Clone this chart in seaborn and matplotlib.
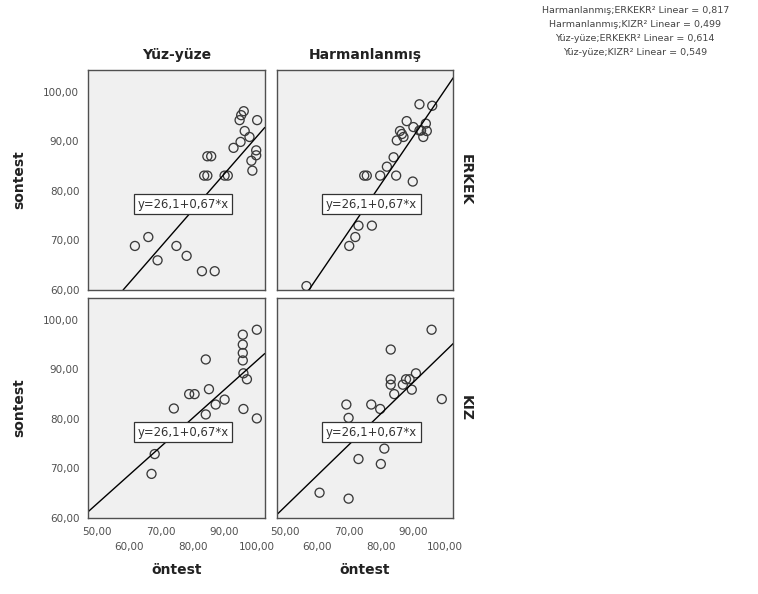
import pandas as pd
import matplotlib
matplotlib.use("Agg")
import matplotlib.pyplot as plt
import seaborn as sns

# method / gender categories
methods = ["Yüz-yüze", "Harmanlanmış"]
genders = ["ERKEK", "KIZ"]

# pre-test (öntest) / post-test (sontest) scores
yy_erkek_on = [61.9, 66.1, 69.0, 74.9, 78.1, 82.9, 86.9, 83.6, 84.6, 84.6, 85.8,
               90.0, 91.0, 92.8, 95.0, 96.3, 97.8, 94.7, 95.2, 96.0, 100.2,
               99.9, 99.9, 98.4, 98.7]
yy_erkek_son = [68.9, 70.7, 66.0, 68.9, 66.9, 63.8, 63.8, 83.1, 83.1, 87.0, 87.0,
                83.1, 83.1, 88.7, 89.9, 92.1, 90.9, 94.3, 95.3, 96.1, 94.3,
                88.2, 87.2, 86.1, 84.1]

h_erkek_on = [56.6, 70.0, 71.9, 72.9, 77.1, 74.7, 75.5, 79.7, 81.8, 83.9, 84.7,
              89.9, 84.9, 85.9, 87.0, 88.0, 90.1, 92.0, 92.5, 93.2, 94.0,
              94.3, 92.0, 96.0, 86.5]
h_erkek_son = [60.8, 68.9, 70.7, 73.0, 73.0, 83.1, 83.1, 83.1, 84.9, 86.8, 83.1,
               81.9, 90.2, 92.1, 90.9, 94.1, 92.9, 92.2, 92.2, 90.9, 93.6,
               92.1, 97.5, 97.2, 91.5]

yy_kiz_on = [67.1, 68.1, 74.1, 78.9, 80.6, 84.1, 85.1, 84.1, 87.2, 90.0, 95.9,
             100.1, 100.1, 95.7, 95.7, 95.7, 95.7, 95.9, 97.0]
yy_kiz_son = [68.9, 72.9, 82.1, 85.0, 85.0, 92.0, 86.0, 80.9, 82.9, 83.9, 82.0,
              80.1, 98.0, 97.0, 95.0, 93.3, 91.8, 89.2, 88.0]

h_kiz_on = [60.7, 69.8, 69.1, 69.8, 72.9, 76.9, 79.7, 79.9, 81.0, 83.0, 83.0,
            83.0, 84.1, 86.8, 87.8, 88.9, 89.6, 90.9, 95.8, 99.0]
h_kiz_son = [65.1, 63.9, 82.9, 80.2, 71.9, 82.9, 82.0, 70.9, 74.0, 94.0, 88.0,
             86.9, 85.0, 86.9, 88.0, 88.0, 85.9, 89.2, 98.0, 84.0]

# fit lines as drawn in each panel (intercept, slope)
fit_lines = {
    ("Yüz-yüze", "ERKEK"): (17.0, 0.739),
    ("Harmanlanmış", "ERKEK"): (5.7, 0.947),
    ("Yüz-yüze", "KIZ"): (34.0, 0.577),
    ("Harmanlanmış", "KIZ"): (31.1, 0.625),
}
fit_label = "y=26,1+0,67*x"
r2_lines = [
    "Harmanlanmış;ERKEKR² Linear = 0,817",
    "Harmanlanmış;KIZR² Linear = 0,499",
    "Yüz-yüze;ERKEKR² Linear = 0,614",
    "Yüz-yüze;KIZR² Linear = 0,549",
]

x_major = [50, 70, 90]
x_minor = [60, 80, 100]
y_ticks = [60, 70, 80, 90, 100]


def fmt(v):
    return f"{v:.2f}".replace(".", ",")


def main():
    frames = []
    for m, g, xs, ys in [
        ("Yüz-yüze", "ERKEK", yy_erkek_on, yy_erkek_son),
        ("Harmanlanmış", "ERKEK", h_erkek_on, h_erkek_son),
        ("Yüz-yüze", "KIZ", yy_kiz_on, yy_kiz_son),
        ("Harmanlanmış", "KIZ", h_kiz_on, h_kiz_son),
    ]:
        frames.append(pd.DataFrame({"yontem": m, "cinsiyet": g,
                                    "ontest": xs, "sontest": ys}))
    df = pd.concat(frames, ignore_index=True)

    sns.set_style("white")
    plt.rcParams["font.family"] = ["DejaVu Sans"]

    g = sns.FacetGrid(df, row="cinsiyet", col="yontem", row_order=genders,
                      col_order=methods, despine=False, height=2.5, aspect=0.8)
    g.map_dataframe(sns.scatterplot, x="ontest", y="sontest", marker="o",
                    facecolor="none", edgecolor="#3a3a3a", linewidth=0.95, s=42)

    g.figure.set_size_inches(7.58, 5.94)
    g.figure.subplots_adjust(left=0.1165, right=0.598, top=0.882, bottom=0.128,
                             wspace=12 / 177, hspace=8 / 220)
    g.set_titles("")

    for (gender, method), ax in g.axes_dict.items():
        ax.set_facecolor("#f0f0f0")
        for sp in ax.spines.values():
            sp.set_color("#505050")
            sp.set_linewidth(1.0)
        ax.set_xlim(47.3, 102.6)
        ax.set_ylim(60, 104.4)

        b, m = fit_lines[(method, gender)]
        ax.axline((0, b), slope=m, color="black", lw=1.0)
        ax.text(0.537, 0.39, fit_label, transform=ax.transAxes, ha="center",
                va="center", fontsize=8.4, color="#333333",
                bbox=dict(boxstyle="square,pad=0.3", fc="white",
                          ec="#333333", lw=0.9))

        ax.set_xticks(x_major)
        ax.set_xticks(x_minor, minor=True)
        ax.set_yticks(y_ticks)
        ax.set_xticklabels([fmt(v) for v in x_major])
        ax.set_xticklabels([fmt(v) for v in x_minor], minor=True)
        ax.set_yticklabels([fmt(v) for v in y_ticks])
        ax.tick_params(axis="both", which="major", length=5, width=0.9,
                       color="#505050", labelsize=7.5, labelcolor="#505050", pad=1.5)
        ax.tick_params(axis="x", which="minor", length=16, width=0.9,
                       color="#505050", labelsize=7.5, labelcolor="#505050", pad=1.5)

        top = gender == genders[0]
        right = method == methods[1]
        if top:
            ax.tick_params(axis="x", which="both", bottom=False, labelbottom=False)
            ax.set_title(method, fontsize=10, fontweight="bold", pad=8,
                         color="#222222")
        if right:
            ax.tick_params(axis="y", which="both", left=False, labelleft=False)
            ax.text(1.07, 0.5, gender, transform=ax.transAxes, rotation=270,
                    ha="center", va="center", fontsize=10, fontweight="bold",
                    color="#222222")

    g.set_axis_labels("öntest", "sontest", fontsize=10, fontweight="bold",
                      color="#222222")
    for ax in g.axes[:, 0]:
        ax.yaxis.labelpad = 12
    for ax in g.axes[-1, :]:
        ax.xaxis.labelpad = 8

    g.figure.text(0.838, 0.99, "\n".join(r2_lines), ha="center", va="top",
                  fontsize=6.8, color="#444444", linespacing=1.7)

    g.figure.savefig("out.png", dpi=100)
    plt.close(g.figure)


if __name__ == "__main__":
    main()
